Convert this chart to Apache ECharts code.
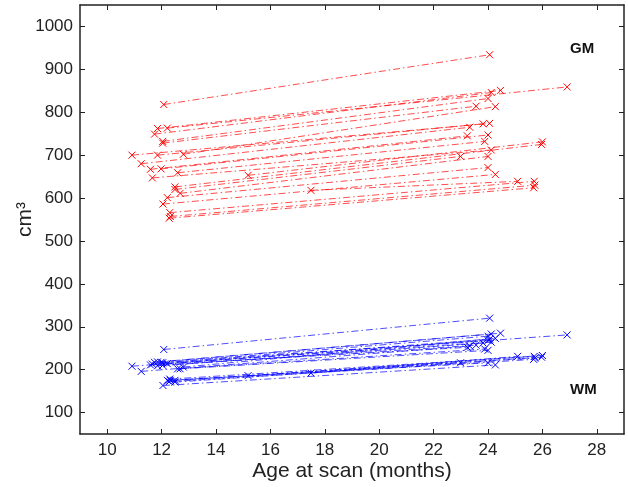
<!DOCTYPE html>
<html>
<head>
<meta charset="utf-8">
<script src="https://cdn.jsdelivr.net/npm/echarts@6/dist/echarts.min.js"></script>
<style>html,body{margin:0;padding:0;background:#fff}#c{width:628px;height:487px}</style>
</head>
<body>
<div id="c"></div>
<script>
// Age at first and second scan (months) per subject
const ageFirst  = [12.08,12.21,11.85,11.74,12.04,12.04,12.80,10.91,11.85,11.25,11.98,11.59,12.59,15.18,12.49,11.66,12.49,12.68,12.21,12.05,17.49,12.30,12.32,12.28];
const ageSecond = [24.06,26.91,24.46,24.12,24.00,23.56,24.27,24.06,23.82,23.33,24.00,23.24,23.88,26.00,25.97,24.12,22.99,24.00,24.00,24.27,25.09,25.70,25.72,25.68];
// Grey matter volume (cm3)
const gmFirst   = [818,763,762,749,732,728,702,700,700,680,668,667,659,653,626,647,620,611,601,586,618,566,557,553];
const gmSecond  = [934,859,851,846,832,814,813,774,773,765,747,745,732,731,725,712,697,697,671,655,639,639,630,624];
// White matter volume (cm3)
const wmFirst   = [247,214,218,217,216,210,206,208,209,196,217,211,202,186,175,213,171,202,175,163,192,178,175,172];
const wmSecond  = [320,281,285,283,278,257,273,271,262,255,268,252,248,233,229,264,216,245,216,211,231,231,227,224];
// Tick labels
const xTicks = [10,12,14,16,18,20,22,24,26,28];
const yTicks = [100,200,300,400,500,600,700,800,900,1000];

const xSym = 'path://M0,0L10,10M10,0L0,10';
function mk(first, second, color){
  return ageFirst.map((a,i)=>({
    type:'line',
    data:[[a, first[i]],[ageSecond[i], second[i]]],
    symbol:xSym, symbolSize:7, showSymbol:true,
    itemStyle:{color:'none', borderColor:color, borderWidth:1},
    lineStyle:{color:color, width:0.7, type:[7,3,1.5,3]},
    emphasis:{disabled:true}, silent:true, animation:false, z:2
  }));
}
const series = [].concat(mk(gmFirst, gmSecond, '#ff0000'), mk(wmFirst, wmSecond, '#0000ff'));

const axisCommon = {
  axisLine:{show:true, onZero:false, lineStyle:{color:'#222', width:1.5}},
  splitLine:{show:false}
};
const fmt = v => String(v);
const chart = echarts.init(document.getElementById('c'));
chart.setOption({
  animation:false,
  grid:{left:80, right:4, top:5, bottom:53, containLabel:false},
  xAxis:[
    Object.assign({type:'value', min:9, max:29, position:'bottom',
      name:'Age at scan (months)', nameLocation:'middle', nameGap:27, nameMoveOverlap:false,
      nameTextStyle:{fontFamily:'Liberation Sans', fontSize:21, color:'#222'},
      axisTick:{show:true, inside:true, length:5, customValues:xTicks, lineStyle:{color:'#222'}},
      axisLabel:{customValues:xTicks, formatter:fmt, fontFamily:'Liberation Sans', fontSize:17, color:'#222', margin:8}
    }, axisCommon),
    Object.assign({type:'value', min:9, max:29, position:'top',
      axisTick:{show:true, inside:true, length:5, customValues:xTicks, lineStyle:{color:'#222'}},
      axisLabel:{show:false}
    }, axisCommon)
  ],
  yAxis:[
    Object.assign({type:'value', min:50, max:1050, position:'left',
      name:'cm³', nameLocation:'middle', nameGap:44, nameMoveOverlap:false,
      nameTextStyle:{fontFamily:'Liberation Sans', fontSize:21, color:'#222'},
      axisTick:{show:true, inside:true, length:5, customValues:yTicks, lineStyle:{color:'#222'}},
      axisLabel:{customValues:yTicks, formatter:fmt, fontFamily:'Liberation Sans', fontSize:17, color:'#222', margin:7}
    }, axisCommon),
    Object.assign({type:'value', min:50, max:1050, position:'right',
      axisTick:{show:true, inside:true, length:5, customValues:yTicks, lineStyle:{color:'#222'}},
      axisLabel:{show:false}
    }, axisCommon)
  ],
  graphic:[
    {type:'text', left:570, top:41, style:{text:'GM', font:'bold 15px "Liberation Sans"', fill:'#111'}},
    {type:'text', left:570, top:382, style:{text:'WM', font:'bold 15px "Liberation Sans"', fill:'#111'}}
  ],
  series:series
});
</script>
</body>
</html>
